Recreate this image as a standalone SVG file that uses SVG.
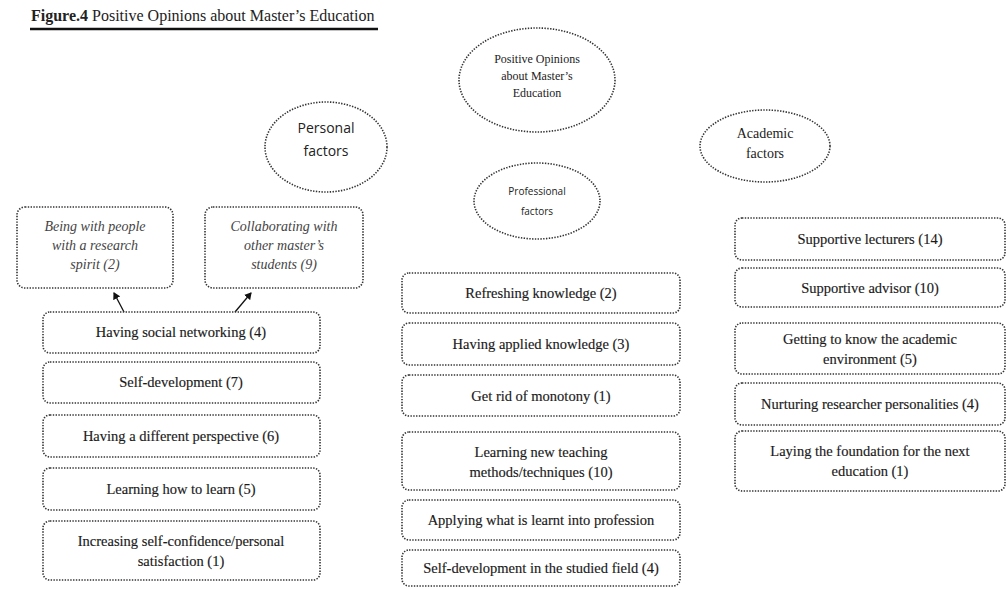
<svg xmlns="http://www.w3.org/2000/svg" width="1006" height="589" viewBox="0 0 1006 589">
<style>
.bx{fill:#fff;stroke:#333;stroke-width:1.6;stroke-dasharray:1.4 1.4}
.el{fill:#fff;stroke:#333;stroke-width:1.6;stroke-dasharray:1.4 1.4}
.t{font-family:"Liberation Serif","Times New Roman","DejaVu Serif",serif;font-size:14.5px;fill:#1a1a1a;stroke:#1a1a1a;stroke-width:0.15;text-anchor:middle}
.e{font-family:"Liberation Serif","Times New Roman","DejaVu Serif",serif;fill:#222;text-anchor:middle}
.it{font-family:"Liberation Serif","Times New Roman","DejaVu Serif",serif;font-size:14px;font-style:italic;fill:#444;text-anchor:middle}
.s{font-family:"Open Sans","DejaVu Sans",sans-serif;text-anchor:middle;fill:#222}
.cn{stroke:#111;stroke-width:1.3;fill:none;marker-end:url(#ah)}
</style>
<defs>
<marker id="ah" markerWidth="8" markerHeight="8" refX="6" refY="4" orient="auto" markerUnits="userSpaceOnUse">
<path d="M0,0 L7,4 L0,8 Z" fill="#111"/>
</marker>
</defs>
<rect width="1006" height="589" fill="#fff"/>
<g id="title">
<text x="31" y="21" font-family="'Liberation Serif','Times New Roman','DejaVu Serif',serif" font-size="16px" fill="#222"><tspan font-weight="bold">Figure.4</tspan> Positive Opinions about Master’s Education</text>
<line x1="30" y1="29" x2="378" y2="29" stroke="#111" stroke-width="2.5"/>
</g>
<g id="root">
<ellipse class="el" cx="537" cy="80" rx="78" ry="52"/>
<text class="e" x="537" y="63" font-size="12px">Positive Opinions</text>
<text class="e" x="537" y="80" font-size="12px">about Master’s</text>
<text class="e" x="537" y="97" font-size="12px">Education</text>
</g>
<g id="personal">
<ellipse class="el" cx="326" cy="147" rx="61" ry="45"/>
<text class="s" x="326" y="133" font-size="14px">Personal</text>
<text class="s" x="326" y="156" font-size="14px">factors</text>
</g>
<g id="academic">
<ellipse class="el" cx="765" cy="146" rx="65" ry="36"/>
<text class="e" x="765" y="138" font-size="14px">Academic</text>
<text class="e" x="765" y="158" font-size="14px">factors</text>
</g>
<g id="professional">
<ellipse class="el" cx="537" cy="201" rx="63" ry="38"/>
<text class="s" x="537" y="195" font-size="10px" fill="#555">Professional</text>
<text class="s" x="537" y="215" font-size="10px" fill="#555">factors</text>
</g>
<g id="connectors">
<line class="cn" x1="124" y1="312" x2="114" y2="293"/>
<line class="cn" x1="235" y1="312" x2="251" y2="293"/>
</g>
<g id="p-research">
<rect class="bx" x="17" y="207" width="156" height="81" rx="8"/>
<text class="it" x="95" y="231">Being with people</text>
<text class="it" x="95" y="250">with a research</text>
<text class="it" x="95" y="269">spirit (2)</text>
</g>
<g id="p-collab">
<rect class="bx" x="205" y="207" width="158" height="81" rx="8"/>
<text class="it" x="284" y="231">Collaborating with</text>
<text class="it" x="284" y="250">other master’s</text>
<text class="it" x="284" y="269">students (9)</text>
</g>
<g id="p1"><rect class="bx" x="43" y="312" width="277" height="41" rx="7"/><text class="t" x="181" y="337">Having social networking (4)</text></g>
<g id="p2"><rect class="bx" x="43" y="362" width="277" height="41" rx="7"/><text class="t" x="181" y="387">Self-development (7)</text></g>
<g id="p3"><rect class="bx" x="43" y="415" width="277" height="42" rx="7"/><text class="t" x="181" y="441">Having a different perspective (6)</text></g>
<g id="p4"><rect class="bx" x="43" y="468" width="277" height="42" rx="7"/><text class="t" x="181" y="494">Learning how to learn (5)</text></g>
<g id="p5"><rect class="bx" x="43" y="521" width="277" height="59" rx="7"/><text class="t" x="181" y="546">Increasing self-confidence/personal</text><text class="t" x="181" y="566">satisfaction (1)</text></g>
<g id="m1"><rect class="bx" x="402" y="273" width="278" height="40" rx="7"/><text class="t" x="541" y="298">Refreshing knowledge (2)</text></g>
<g id="m2"><rect class="bx" x="402" y="323" width="278" height="42" rx="7"/><text class="t" x="541" y="349">Having applied knowledge (3)</text></g>
<g id="m3"><rect class="bx" x="402" y="375" width="278" height="41" rx="7"/><text class="t" x="541" y="401">Get rid of monotony (1)</text></g>
<g id="m4"><rect class="bx" x="402" y="432" width="278" height="58" rx="7"/><text class="t" x="541" y="457">Learning new teaching</text><text class="t" x="541" y="477">methods/techniques (10)</text></g>
<g id="m5"><rect class="bx" x="402" y="500" width="278" height="40" rx="7"/><text class="t" x="541" y="525">Applying what is learnt into profession</text></g>
<g id="m6"><rect class="bx" x="402" y="550" width="278" height="36" rx="7"/><text class="t" x="541" y="573">Self-development in the studied field (4)</text></g>
<g id="a1"><rect class="bx" x="735" y="218" width="270" height="42" rx="7"/><text class="t" x="870" y="244">Supportive lecturers (14)</text></g>
<g id="a2"><rect class="bx" x="735" y="268" width="270" height="39" rx="7"/><text class="t" x="870" y="293">Supportive advisor (10)</text></g>
<g id="a3"><rect class="bx" x="735" y="323" width="270" height="51" rx="7"/><text class="t" x="870" y="344">Getting to know the academic</text><text class="t" x="870" y="364">environment (5)</text></g>
<g id="a4"><rect class="bx" x="735" y="383" width="270" height="42" rx="7"/><text class="t" x="870" y="409">Nurturing researcher personalities (4)</text></g>
<g id="a5"><rect class="bx" x="735" y="431" width="270" height="60" rx="7"/><text class="t" x="870" y="456">Laying the foundation for the next</text><text class="t" x="870" y="476">education (1)</text></g>
</svg>
